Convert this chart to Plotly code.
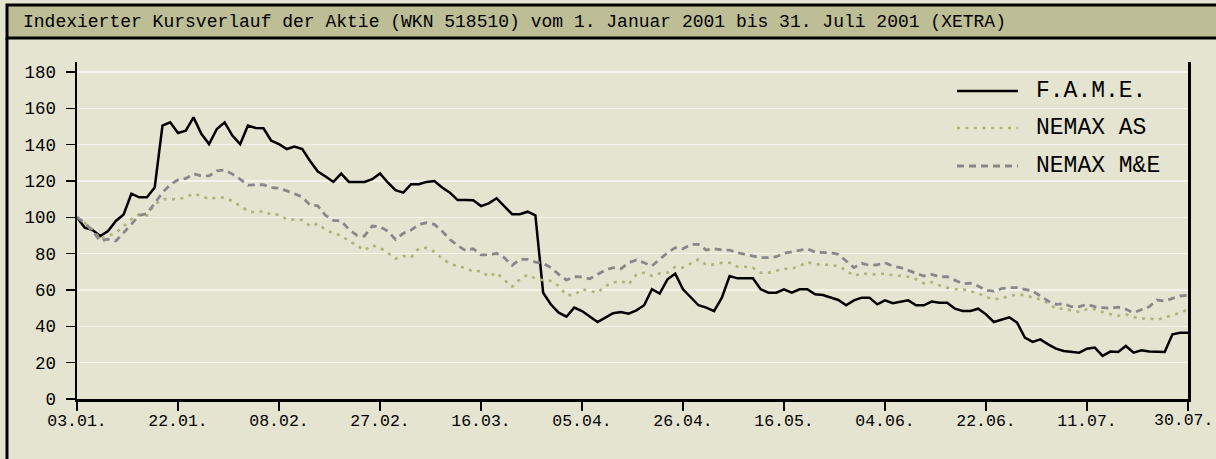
import plotly.graph_objects as go

tick_labels = ["03.01.", "22.01.", "08.02.", "27.02.", "16.03.", "05.04.",
               "26.04.", "16.05.", "04.06.", "22.06.", "11.07.", "30.07."]

fame = [100, 94.3, 93, 89.7, 92.5, 98, 101.6, 113, 111, 111,
        116.4, 150.5, 152.3, 146.4, 147.7, 155, 146, 140.3, 148.6, 152.3,
        145, 140.3, 150.5, 149.2, 149, 142.2, 140.3, 137.6, 139, 137.6,
        131, 125.2, 122.5, 119.5, 124.1, 119.5, 119.5, 119.5, 121, 124.1,
        119.2, 115, 113.6, 118.2, 118.2, 119.5, 120, 116.4, 113.6, 109.5,
        109.5, 109.4, 106.2, 107.7, 110.5, 105.9, 101.7, 101.7, 103.1, 101.1,
        58.5, 52, 47.5, 45.3, 50.3, 48.4, 45.3, 42.4, 44.8, 47.2,
        47.9, 47, 48.8, 51.6, 60.4, 58, 65.9, 69, 60.4, 55.8,
        51.6, 50.3, 48.4, 55.8, 67.7, 66.4, 66.4, 66.4, 60.4, 58.5,
        58.5, 60.4, 58.5, 60.4, 60.4, 57.6, 57.2, 55.8, 54.5, 51.6,
        54.3, 55.8, 55.8, 52.1, 54.3, 52.7, 53.4, 54.3, 51.6, 51.6,
        53.6, 53, 53, 49.7, 48.4, 48.4, 49.7, 46.6, 42.4, 43.9,
        45, 42, 33.8, 31.4, 32.8, 30.1, 27.7, 26.4, 26.1, 25.5,
        27.7, 28.3, 23.7, 26.1, 25.9, 29.2, 25.5, 26.8, 26.1, 26.1,
        25.9, 35.6, 36.5, 36.5]

nemax_as = [100, 97, 93.4, 88, 89.7, 91.5, 95, 99, 101.6, 101,
            107, 110, 110, 110, 111, 113, 111.8, 110, 111, 110.8,
            109, 106, 103.5, 102.6, 103.5, 101.5, 101.5, 98.9, 98.9, 98.5,
            95.2, 96.5, 93, 91.2, 90, 87, 84.7, 81.8, 84.7, 83.2,
            80.5, 77.2, 78.7, 78, 82.9, 83.2, 81, 77.2, 74.6, 72.9,
            72.3, 70.1, 70.5, 67.3, 69.5, 65.9, 61.8, 65.9, 68.3, 66.4,
            65.3, 65, 62.2, 57.2, 57.2, 60.4, 59.4, 58.5, 62.2, 64,
            65, 63.1, 68.6, 69.5, 67.7, 69.2, 69.5, 72.8, 72.3, 74.7,
            76.9, 73.8, 74.1, 75, 75, 72.8, 72.8, 72.3, 69.5, 69.5,
            70.5, 71.7, 71.7, 73.2, 75.4, 74.1, 74.1, 73.8, 73.2, 70.8,
            67.7, 69.2, 68.6, 68.6, 69, 68.1, 67.7, 67.3, 65.9, 63.7,
            64.4, 62.6, 61.3, 60.4, 60.4, 59.1, 58.2, 56.1, 54.9, 55.4,
            56.7, 57.4, 57.2, 55.8, 54.9, 52.7, 49.7, 49.7, 49, 47.9,
            49.4, 49.4, 47.9, 46.6, 45.7, 46.6, 45.1, 44.2, 44.4, 43.5,
            44.8, 46.1, 47.5, 49.4]

nemax_me = [100, 97, 92.5, 87, 88, 87, 91.5, 96, 101, 102,
            108, 113.6, 118, 120.6, 121.4, 124, 122.8, 122.8, 125.6, 126,
            123.8, 121, 117.7, 117.7, 118, 116.4, 116, 114.6, 112.7, 111.2,
            106.8, 106.3, 101, 98.3, 98, 93.4, 90.2, 89.7, 95.2, 94.8,
            92.4, 87.8, 91.2, 93, 96.1, 97, 96.1, 92.4, 87.8, 84.5,
            81.8, 82.7, 79.3, 79.3, 80.2, 77.8, 73.6, 76.9, 76.9, 75.4,
            74.7, 72.3, 68.6, 65.5, 67.3, 67.2, 66.2, 68.6, 71, 72.3,
            71.7, 75, 76.5, 75, 73.2, 76.9, 80.5, 83.3, 82.7, 85.1,
            85.1, 82, 82.7, 82, 82, 80.5, 79.6, 79.1, 77.8, 77.8,
            78.3, 80.2, 80.9, 82, 82.7, 80.9, 80.9, 80.5, 79.6, 76,
            72.3, 74.7, 73.6, 73.9, 75, 73.2, 72.3, 70.8, 69.2, 67.7,
            68.6, 67.3, 67.3, 65.5, 63.5, 63.7, 62.2, 59.8, 59.4, 60.7,
            61.3, 61.3, 60.4, 59.4, 56.7, 53.9, 52.1, 52.5, 50.8, 50.8,
            52.1, 50.8, 50.3, 49.9, 50.6, 49.4, 47.5, 49, 50.8, 54.5,
            53.9, 55.4, 56.7, 57.1]

series_names = ["F.A.M.E.", "NEMAX AS", "NEMAX M&E"]
y_ticks = [0, 20, 40, 60, 80, 100, 120, 140, 160, 180]
tick_step = 13

x = list(range(len(fame)))
tickvals = [i * tick_step for i in range(len(tick_labels))]

W, H = 1216, 459
L, R, T, B = 77, 1188, 62, 399
BG = "#e5e4d1"
BAR = "#bdbd96"
FONT = "Liberation Mono"
XFS = 16.5

def px(v):
    return (v - L) / (R - L)

def py(v):
    return (B - v) / (B - T)

styles = [
    dict(color="#000000", width=2.5, dash="solid"),
    dict(color="#aeb37c", width=2.6, dash="3px,5.5px"),
    dict(color="#88888a", width=2.8, dash="7px,5px"),
]

fig = go.Figure()
for name, ys, st in zip(series_names, [fame, nemax_as, nemax_me], styles):
    fig.add_trace(go.Scatter(x=x, y=ys, mode="lines", name=name,
                             line=st, showlegend=False, hoverinfo="skip"))

shapes = []
annotations = []
shapes.append(dict(type="rect", xref="paper", yref="paper",
                   x0=px(7), x1=px(1240), y0=py(5), y1=py(38),
                   fillcolor=BAR, line=dict(color="black", width=3), layer="above"))
shapes.append(dict(type="line", xref="paper", yref="paper",
                   x0=px(7), x1=px(7), y0=py(38), y1=py(470),
                   line=dict(color="black", width=3)))
annotations.append(dict(text="Indexierter Kursverlauf der Aktie (WKN 518510) vom 1. Januar 2001 bis 31. Juli 2001 (XETRA)",
                        xref="paper", yref="paper", x=px(21), y=py(22),
                        xanchor="left", yanchor="middle", showarrow=False,
                        font=dict(family=FONT, size=18, color="black")))
leg_y = [91, 128, 166]
for name, st, ly in zip(series_names, styles, leg_y):
    shapes.append(dict(type="line", xref="paper", yref="paper",
                       x0=px(957), x1=px(1018), y0=py(ly), y1=py(ly),
                       line=st))
    annotations.append(dict(text=name, xref="paper", yref="paper",
                            x=px(1034), y=py(ly), xanchor="left", yanchor="middle",
                            showarrow=False,
                            font=dict(family=FONT, size=23, color="black")))

# last x label: drawn at the last tick but kept inside the canvas
ticktext = tick_labels[:-1] + [""]
annotations.append(dict(text=tick_labels[-1], xref="x", yref="paper",
                        x=tickvals[-1], y=py(420), xanchor="right", yanchor="middle",
                        xshift=26, showarrow=False, borderpad=0,
                        font=dict(family=FONT, size=XFS, color="black")))

fig.update_layout(
    width=W, height=H,
    margin=dict(l=L, r=W - R, t=T, b=H - B, pad=0, autoexpand=False),
    paper_bgcolor=BG, plot_bgcolor=BG,
    shapes=shapes, annotations=annotations,
    showlegend=False,
    xaxis=dict(range=[0, len(fame) - 1], tickmode="array", tickvals=tickvals,
               ticktext=ticktext, ticks="outside", ticklen=9, tickwidth=1.5,
               tickcolor="black", showline=True, linecolor="black", linewidth=3,
               showgrid=False, zeroline=False, ticklabeloverflow="allow",
               automargin=False, ticklabelstandoff=-5,
               tickfont=dict(family=FONT, size=XFS, color="black")),
    yaxis=dict(range=[0, 185.5], tickmode="array", tickvals=y_ticks,
               ticks="outside", ticklen=9, tickwidth=1.5, tickcolor="black",
               showline=True, linecolor="black", linewidth=2.5, mirror=True,
               showgrid=True, gridcolor="#f5f4ec", gridwidth=1.5, zeroline=False,
               ticklabelstandoff=6, automargin=False,
               tickfont=dict(family=FONT, size=17.5, color="black")),
)

fig.write_html("out.html", config={"displayModeBar": False, "staticPlot": True},
               post_script="document.body.style.margin='0';document.body.style.overflow='hidden';")
